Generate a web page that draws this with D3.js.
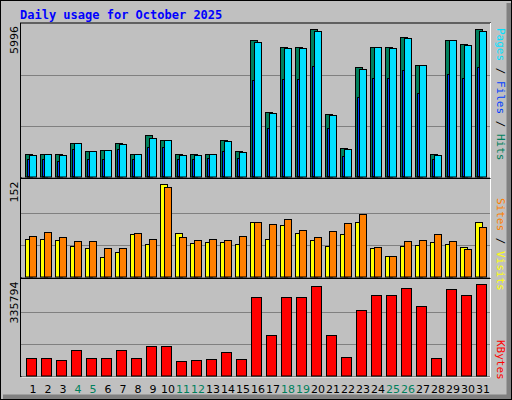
<!DOCTYPE html>
<html><head><meta charset="utf-8">
<script src="https://cdn.jsdelivr.net/npm/d3@7"></script>
<style>body{margin:0;background:#fff}</style>
</head><body><div id="chart"></div>
<script>
const days = d3.range(1, 32)
const weekends = [4, 5, 11, 12, 18, 19, 25, 26]
const hits = [883, 883, 883, 1318, 1002, 1041, 1318, 883, 1634, 1437, 883, 883, 883, 1437, 1002, 5390, 2544, 5114, 5114, 5826, 2465, 1120, 4323, 5114, 5114, 5509, 4402, 883, 5390, 5232, 5826]
const files = [843, 883, 843, 1318, 1002, 1041, 1278, 883, 1516, 1437, 843, 843, 883, 1397, 962, 5311, 2504, 5074, 5074, 5746, 2425, 1081, 4244, 5114, 5074, 5470, 4402, 843, 5390, 5193, 5746]
const pages = [685, 685, 606, 1081, 685, 685, 1081, 685, 1160, 1160, 685, 685, 725, 1002, 725, 3809, 1911, 3848, 3848, 4363, 1911, 804, 3137, 3888, 3888, 4204, 3295, 685, 4046, 3888, 4323]
const sites = [59, 59, 58, 48, 45, 31, 39, 67, 51, 147, 69, 53, 54, 54, 51, 86, 59, 81, 69, 58, 48, 67, 86, 45, 32, 48, 50, 54, 51, 46, 86]
const visits = [64, 70, 62, 56, 56, 45, 45, 69, 59, 141, 62, 58, 59, 58, 64, 86, 83, 91, 73, 62, 72, 84, 99, 46, 32, 56, 58, 67, 56, 43, 78]
const kbytes = [61000, 61000, 54000, 89000, 61000, 61000, 89000, 61000, 103000, 103000, 50500, 54000, 57500, 82000, 57500, 276000, 142000, 279000, 279000, 318000, 142000, 64500, 230000, 286000, 283000, 311000, 244000, 61000, 304000, 286000, 322000]
const maxHits = 5996
const maxVisits = 152
const maxKbytes = 335794

const W = 512
const H = 400
const svg = d3.select('#chart').append('svg').attr('width', W).attr('height', H)
  .style('font-family', 'DejaVu Sans')

// outer frame
svg.append('rect').attr('width', W).attr('height', H).attr('fill', '#c0c0c0')
svg.append('path').attr('d', `M0,${H - 1}V0H${W - 1}`).attr('stroke', '#fff').attr('stroke-width', 2).attr('fill', 'none')
svg.append('path').attr('d', `M3,${H - 3}H${W - 3}V3`).attr('stroke', '#808080').attr('stroke-width', 5).attr('fill', 'none')
svg.append('rect').attr('x', 0.5).attr('y', 0.5).attr('width', W - 1).attr('height', H - 1).attr('fill', 'none').attr('stroke', '#000')

svg.append('text').attr('x', 20).attr('y', 19).text('Daily usage for October 2025')
  .attr('fill', '#0000ff').attr('font-weight', 'bold').attr('font-size', 12)
  .style('font-family', 'DejaVu Sans Mono')

const x = d3.scaleLinear().domain([1, 31]).range([25, 475])

const panels = [
  { top: 25, bottom: 176.5, max: maxHits },
  { top: 180.5, bottom: 276.5, max: maxVisits },
  { top: 280.5, bottom: 375.5, max: maxKbytes }
]

panels.forEach(p => {
  p.y = d3.scaleLinear().domain([0, p.max]).range([p.bottom, p.top])
  svg.append('rect').attr('x', 20.5).attr('y', p.top - 2).attr('width', 470).attr('height', p.bottom - p.top + 3)
    .attr('fill', '#c0c0c0').attr('stroke', '#000')
  svg.append('path').attr('d', `M21.5,${p.bottom + 1.5}H490.5V${p.top - 2}`).attr('stroke', '#fff').attr('fill', 'none')
  ;[1, 2].forEach(k => {
    const gy = Math.round(p.y(p.max * k / 3)) + 0.5
    svg.append('line').attr('x1', 21).attr('x2', 490).attr('y1', gy).attr('y2', gy).attr('stroke', '#808080').attr('stroke-width', 1)
  })
  svg.append('text').attr('transform', `translate(18,${p.top + 1}) rotate(-90)`)
    .attr('text-anchor', 'end').attr('font-size', 11).text(p.max)
})

function bars (panel, data, dx, w, color) {
  svg.append('g').selectAll('rect').data(data).join('rect')
    .attr('x', (d, i) => x(days[i]) + dx + 0.5)
    .attr('y', d => Math.round(panel.y(d)) + 0.5)
    .attr('width', w)
    .attr('height', d => Math.max(0, panel.bottom - Math.round(panel.y(d))))
    .attr('fill', color).attr('stroke', '#000')
}

bars(panels[0], hits, 0, 7, '#00805c')
bars(panels[0], files, 4, 7, '#00e0ff')
bars(panels[0], pages, 2, 2, '#0040ff')
bars(panels[1], sites, 0, 7, '#ffff00')
bars(panels[1], visits, 4, 7, '#ff8000')
bars(panels[2], kbytes, 1, 10, '#ff0000')

svg.append('g').selectAll('text').data(days).join('text')
  .attr('x', d => x(d) + 8).attr('y', 393).attr('text-anchor', 'middle').attr('font-size', 11)
  .attr('fill', d => weekends.includes(d) ? '#00805c' : '#000').text(d => d)

function sideLabel (y, parts) {
  const t = svg.append('text').attr('transform', `translate(497,${y}) rotate(90)`)
    .attr('font-size', 11).style('font-family', 'DejaVu Sans Mono')
  parts.forEach(([s, c]) => t.append('tspan').attr('fill', c).text(s))
}
sideLabel(28, [['Hits', '#00805c'], [' / ', '#000'], ['Files', '#0040ff'], [' / ', '#000'], ['Pages', '#00e0ff']].reverse())
sideLabel(198, [['Visits', '#ffff00'], [' / ', '#000'], ['Sites', '#ff8000']].reverse())
sideLabel(340, [['KBytes', '#ff0000']])
</script>
</body></html>
